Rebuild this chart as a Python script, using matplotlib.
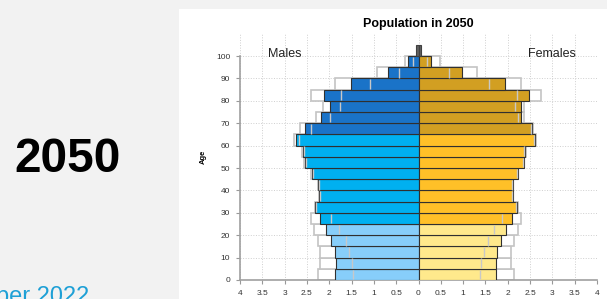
import numpy as np
import matplotlib
matplotlib.use("Agg")
import matplotlib.pyplot as plt
from matplotlib.patches import Rectangle

plt.rcParams['font.family'] = ['Liberation Sans', 'DejaVu Sans']

# Age groups (start of each 5-year band) and values in %
ages = np.arange(0, 100, 5)
male = [1.87, 1.85, 1.88, 1.95, 2.07, 2.20, 2.31, 2.23, 2.25, 2.39,
        2.55, 2.59, 2.74, 2.54, 2.18, 1.99, 2.12, 1.52, 0.68, 0.23]
female = [1.74, 1.74, 1.77, 1.85, 1.97, 2.09, 2.21, 2.11, 2.11, 2.22,
          2.36, 2.39, 2.61, 2.55, 2.30, 2.30, 2.48, 1.93, 0.97, 0.29]
male_outline = [2.26, 2.21, 2.21, 2.26, 2.35, 2.42, 2.33, 2.24, 2.26, 2.41,
                2.57, 2.61, 2.79, 2.65, 2.29, 2.14, 2.40, 1.86, 0.93, 0.30]
female_outline = [2.13, 2.08, 2.07, 2.13, 2.22, 2.30, 2.22, 2.12, 2.12, 2.23,
                  2.37, 2.40, 2.64, 2.57, 2.36, 2.36, 2.75, 2.30, 1.32, 0.48]
male_inner = [1.46, 1.50, 1.55, 1.63, 1.78, 1.96, 2.29, 2.21, 2.23, 2.37,
              2.53, 2.57, 2.68, 2.40, 1.99, 1.75, 1.73, 1.09, 0.43, 0.13]
female_inner = [1.37, 1.40, 1.46, 1.55, 1.70, 1.88, 2.19, 2.09, 2.09, 2.20,
                2.34, 2.37, 2.58, 2.51, 2.22, 2.17, 2.21, 1.57, 0.69, 0.18]
male_100 = 0.06
female_100 = 0.05

xticks = np.arange(-4, 4.01, 0.5)
xtick_labels = ['4', '3.5', '3', '2.5', '2', '1.5', '1', '0.5', '0',
                '0.5', '1', '1.5', '2', '2.5', '3', '3.5', '4']

# colours by broad age group (0-24, 25-64, 65+)
male_cols = ['#87cefa'] * 5 + ['#00b0f0'] * 8 + ['#1a73c8'] * 7
female_cols = ['#ffe98c'] * 5 + ['#ffc028'] * 8 + ['#d29f22'] * 7

W, H = 607, 299
fig = plt.figure(figsize=(W / 100, H / 100), dpi=100, facecolor='#f2f2f2')
fig.patches.append(Rectangle((179 / W, 0), 1 - 179 / W, 1 - 9 / H,
                             transform=fig.transFigure, facecolor='white',
                             edgecolor='none', zorder=-5))

ax = fig.add_axes([240 / W, 1 - 280 / H, 357 / W, (280 - 33.6) / H])
ax.set_zorder(1)
ax.set_facecolor('none')

m = -np.array(male)
f = np.array(female)

# white outline bars (behind)
ax.barh(ages, -np.array(male_outline), height=5, align='edge', color='white',
        edgecolor='#c4c4c4', linewidth=1.2, zorder=2)
ax.barh(ages, female_outline, height=5, align='edge', color='white',
        edgecolor='#c4c4c4', linewidth=1.2, zorder=2)

# main bars
ax.barh(ages, m, height=5, align='edge', color=male_cols,
        edgecolor='#303030', linewidth=0.8, zorder=3)
ax.barh(ages, f, height=5, align='edge', color=female_cols,
        edgecolor='#303030', linewidth=0.8, zorder=3)

# light inner markers
ax.vlines(-np.array(male_inner), ages + 0.4, ages + 4.6, color='#c8c8c8',
          linewidth=1.0, zorder=4)
ax.vlines(female_inner, ages + 0.4, ages + 4.6, color='#c8c8c8',
          linewidth=1.0, zorder=4)

# 100+
ax.barh([100], [-male_100], height=5, align='edge', color='#606060',
        edgecolor='#404040', linewidth=0.8, zorder=3)
ax.barh([100], [female_100], height=5, align='edge', color='#606060',
        edgecolor='#404040', linewidth=0.8, zorder=3)

ax.set_xlim(-4, 4)
ax.set_ylim(0, 110)
ax.set_xticks(xticks)
ax.set_xticklabels(xtick_labels)
ax.set_yticks(np.arange(0, 101, 10))
ax.tick_params(labelsize=6, colors='#999999', length=3, width=0.8, pad=4)
for lab in ax.get_xticklabels() + ax.get_yticklabels():
    lab.set_color('#333333')

ax.grid(True, linestyle=':', color='#cfcfcf', linewidth=0.7, zorder=0)
ax.set_axisbelow(True)

for s in ['top', 'right']:
    ax.spines[s].set_visible(False)
ax.spines['left'].set_bounds(0, 100)
ax.spines['left'].set_color('#a0a0a0')
ax.spines['left'].set_linewidth(1.2)
ax.spines['bottom'].set_color('#a0a0a0')
ax.spines['bottom'].set_linewidth(1.2)

ax.set_ylabel('Age', fontsize=5.5, fontweight='bold')
ax.yaxis.set_label_coords(-0.094, 0.5)

ax.text(-3.0, 101, 'Males', fontsize=9, ha='center', va='center', color='#222222')
ax.text(3.0, 101, 'Females', fontsize=9, ha='center', va='center', color='#222222')

fig.text(418 / W, 1 - 24 / H, 'Population in 2050', fontsize=9,
         fontweight='bold', ha='center', va='center')

fig.text(68 / W, 1 - 159 / H, '2050', fontsize=34.5, fontweight='bold',
         ha='center', va='center')
fig.text(-4 / W, 1 - 303 / H, 'ber 2022', fontsize=17, color='#1ea0d6',
         ha='left', va='baseline')

fig.savefig('out.png', dpi=100, facecolor=fig.get_facecolor())
